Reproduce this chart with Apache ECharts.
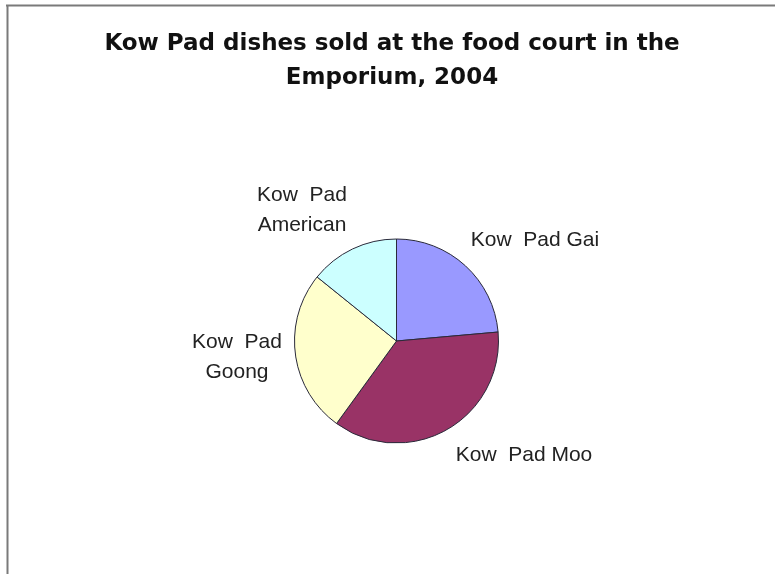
<!DOCTYPE html>
<html>
<head>
<meta charset="utf-8">
<style>
html,body{margin:0;padding:0;background:#fff;}
#chart{width:775px;height:574px;}
</style>
<script src="https://cdn.jsdelivr.net/npm/echarts@6/dist/echarts.min.js"></script>
</head>
<body>
<div id="chart"></div>
<script>
var categories = ['Kow Pad Gai', 'Kow Pad Moo', 'Kow Pad Goong', 'Kow Pad American'];
var labelTexts = ['Kow  Pad Gai', 'Kow  Pad Moo', 'Kow  Pad\nGoong', 'Kow  Pad\nAmerican'];
var values = [23.6, 36.4, 25.8, 14.2];
var colors = ['#9999FF', '#993366', '#FFFFCC', '#CCFFFF'];
var titleText = 'Kow Pad dishes sold at the food court in the\nEmporium, 2004';

// label anchor positions (layout only)
var labelPos = [[535, 240], [524, 455], [237, 357], [302, 210]];

var chart = echarts.init(document.getElementById('chart'));
var data = categories.map(function (c, i) {
  return { name: c, value: values[i], itemStyle: { color: colors[i] } };
});
chart.setOption({
  animation: false,
  backgroundColor: '#fff',
  title: {
    text: titleText,
    left: 387,
    top: 22,
    textAlign: 'center',
    textStyle: {
      fontFamily: 'DejaVu Sans',
      fontWeight: 'bold',
      fontSize: 23,
      lineHeight: 34,
      color: '#111'
    }
  },
  graphic: [
    { type: 'line', shape: { x1: 6, y1: 5.5, x2: 775, y2: 5.5 }, style: { stroke: '#7a7a7a', lineWidth: 2 } },
    { type: 'line', shape: { x1: 7.5, y1: 5, x2: 7.5, y2: 574 }, style: { stroke: '#7a7a7a', lineWidth: 2 } }
  ],
  series: [{
    type: 'pie',
    center: [396.5, 341],
    radius: 102,
    startAngle: 90,
    clockwise: true,
    data: data,
    itemStyle: { borderColor: '#2a2a3a', borderWidth: 1 },
    label: {
      show: true,
      position: 'outside',
      formatter: function (p) { return labelTexts[p.dataIndex]; },
      fontFamily: 'Liberation Sans',
      fontSize: 21,
      lineHeight: 30,
      color: '#222',
      align: 'center'
    },
    labelLine: { show: false },
    labelLayout: function (p) {
      var pos = labelPos[p.dataIndex];
      return { x: pos[0], y: pos[1], align: 'center', verticalAlign: 'middle' };
    },
    emphasis: { disabled: true }
  }]
});
</script>
</body>
</html>
